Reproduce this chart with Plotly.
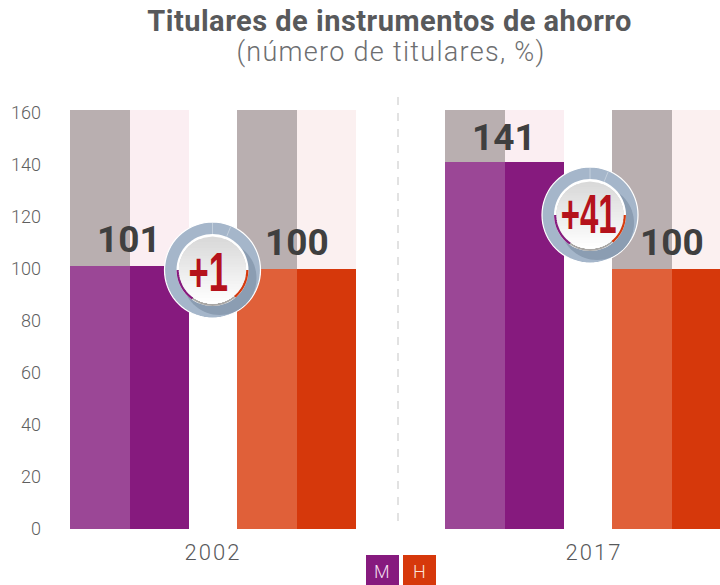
import math
import plotly.graph_objects as go

years = ["2002", "2017"]
women = [101, 141]
men = [100, 100]
deltas = ["+1", "+41"]
y_ticks = [0, 20, 40, 60, 80, 100, 120, 140, 160]
background_top = [161, 161]

W, H = 720, 585
L, T, B = 44, 110, 56
PW, PH = W - L, H - T - B
X0, STEP = 213.0, 375.0


def px(x):
    return (x - L) / PW


def py(y):
    return (H - B - y) / PH


def u(p):
    return p / STEP


def circle_path(cx, cy, r, n=72):
    pts = [(cx + r * math.cos(2 * math.pi * i / n), cy + r * math.sin(2 * math.pi * i / n)) for i in range(n)]
    return "M" + "L".join(f"{px(a):.5f},{py(b):.5f}" for a, b in pts) + "Z"


def arc_path(cx, cy, r, a0, a1, n=24):
    pts = []
    for i in range(n + 1):
        a = math.radians(a0 + (a1 - a0) * i / n)
        pts.append((cx + r * math.cos(a), cy + r * math.sin(a)))
    return "M" + "L".join(f"{px(a):.5f},{py(b):.5f}" for a, b in pts)


def cap_path(cx, cy, r, y0, n=24):
    """Part of a circle below the horizontal line y = y0."""
    t0 = math.asin(max(min((y0 - cy) / r, 1), -1))
    pts = []
    for i in range(n + 1):
        t = t0 + (math.pi - 2 * t0) * i / n
        pts.append((cx + r * math.cos(t), cy + r * math.sin(t)))
    return "M" + "L".join(f"{px(a):.5f},{py(b):.5f}" for a, b in pts) + "Z"


def pshape(path, fill, line=None, width=0):
    return dict(type="path", xref="paper", yref="paper", path=path, fillcolor=fill,
                line=dict(color=line or "rgba(0,0,0,0)", width=width))


def badge(cx, cy, left_color, right_color):
    s = []
    s.append(pshape(circle_path(cx, cy, 48), "#a5b6ca", "#ffffff", 1.2))
    s.append(pshape(circle_path(cx + 7, cy + 8, 37), "#8b9db2"))
    s.append(pshape(circle_path(cx, cy, 36), "#ffffff"))
    s.append(dict(type="line", xref="paper", yref="paper", x0=px(cx), x1=px(cx), y0=py(cy - 47), y1=py(cy - 36),
                  line=dict(color="#c3cfdc", width=1)))
    s.append(dict(type="line", xref="paper", yref="paper", x0=px(cx + 18), x1=px(cx + 14), y0=py(cy - 43), y1=py(cy - 33),
                  line=dict(color="#c3cfdc", width=1)))
    s.append(pshape(circle_path(cx, cy + 2.5, 33.5), "#a9a7a5"))
    r = 33.5
    n = 24
    for i in range(n):
        y0 = cy - r + 2 * r * i / n
        v = int(217 + (255 - 217) * i / (n - 1))
        s.append(pshape(cap_path(cx, cy, r, y0), f"rgb({v},{v},{v})"))
    s.append(pshape(arc_path(cx, cy, 34.8, 125, 180), "rgba(0,0,0,0)", left_color, 2.2))
    s.append(pshape(arc_path(cx, cy, 34.8, 0, 50), "rgba(0,0,0,0)", right_color, 2.2))
    return s


GREY, PALE = "#b9afb0", "#fbeef2"
slots = [
    (-143, 60, GREY, "#9b4796", women),
    (-83, 59, PALE, "#861a7e", women),
    (24, 60, GREY, "#e06039", men),
    (84, 59, "#fbf0f0", "#d6380b", men),
]

fig = go.Figure()
xs = [0, 1]
for off, wid, bg, fg, vals in slots:
    fig.add_bar(x=xs, y=background_top, offset=u(off), width=u(wid), marker=dict(color=bg, line_width=0),
                hoverinfo="skip", showlegend=False)
for off, wid, bg, fg, vals in slots:
    fig.add_bar(x=xs, y=vals, offset=u(off), width=u(wid), marker=dict(color=fg, line_width=0),
                showlegend=False)

shapes = [dict(type="line", xref="paper", yref="paper", x0=px(398), x1=px(398), y0=py(97), y1=0,
               line=dict(color="#d9d9d9", width=1.5, dash="8px,8px"))]
shapes += badge(212.5, 270, "#861a7e", "#d6380b")
shapes += badge(590, 215, "#861a7e", "#d6380b")
shapes.append(dict(type="rect", xref="paper", yref="paper", x0=px(366), x1=px(399), y0=py(585), y1=py(555),
                   fillcolor="#861a7e", line_width=0))
shapes.append(dict(type="rect", xref="paper", yref="paper", x0=px(403), x1=px(436), y0=py(585), y1=py(555),
                   fillcolor="#d6380b", line_width=0))

ann = []
FONT = "Roboto"


def text(x, y, s, size, color, weight=400):
    ann.append(dict(x=px(x), y=py(y), xref="paper", yref="paper", text=s, showarrow=False, xanchor="center",
                    yanchor="middle", font=dict(family=FONT, size=size, color=color, weight=weight)))


TITLE = "Titulares de instrumentos de ahorro"
SUB = "(número de titulares, %)"
text(390, 21, TITLE, 29, "#58595b", 700)
text(391, 52, SUB, 27, "#6d6e70", 300)

for i, (w_val, m_val) in enumerate(zip(women, men)):
    ann.append(dict(x=i + u(-84), y=w_val, xref="x", yref="y", text=str(w_val), showarrow=False,
                    yshift=27 if i == 0 else 25,
                    font=dict(family=FONT, size=37, color="#3f3f3f", weight=700)))
    ann.append(dict(x=i + u(84), y=m_val, xref="x", yref="y", text=str(m_val), showarrow=False, yshift=27,
                    font=dict(family=FONT, size=37, color="#3f3f3f", weight=700)))

BADGE_FONT = "Liberation Sans"
ann.append(dict(x=px(208.5), y=py(272), xref="paper", yref="paper", text=deltas[0], showarrow=False,
                xanchor="center", yanchor="middle",
                font=dict(family=BADGE_FONT, size=55, color="#b5121b", weight=700)))
ann.append(dict(x=px(588), y=py(214), xref="paper", yref="paper", text=deltas[1], showarrow=False,
                xanchor="center", yanchor="middle",
                font=dict(family=BADGE_FONT, size=55, color="#b5121b", weight=700)))

text(382, 571, "M", 18, "#f3dff0", 300)
text(419, 571, "H", 18, "#fbe3da", 300)

fig.update_layout(
    width=W, height=H, autosize=False, barmode="overlay", bargap=0,
    margin=dict(l=L, r=0, t=T, b=B), paper_bgcolor="#ffffff", plot_bgcolor="#ffffff",
    shapes=shapes, annotations=ann, showlegend=False,
    font=dict(family=FONT),
    xaxis=dict(range=[(L - X0) / STEP, (W - X0) / STEP], tickmode="array", tickvals=[0, 1.016], ticktext=years,
               showgrid=False, zeroline=False, showline=False, ticks="", ticklabelstandoff=8,
               tickfont=dict(family=FONT, size=22, color="#58595b", weight=300)),
    yaxis=dict(range=[0, PH / 2.6], tickmode="array", tickvals=y_ticks, showgrid=False, zeroline=False,
               showline=False, ticks="", ticklabelstandoff=2,
               tickfont=dict(family=FONT, size=18, color="#5f5f5f", weight=300)),
)

post = """
document.documentElement.style.overflow='hidden';
document.body.style.margin='0';
document.querySelectorAll('.annotation-text').forEach(function(t){
  var s=t.textContent;
  if(s.charAt(0)==='+'){
    t.style.transformBox='fill-box';t.style.transformOrigin='center';
    t.style.transform='scaleX('+(s.length>2?0.6:0.63)+')';
  }
  if(s.indexOf('Titulares')===0){t.style.letterSpacing='0.5px';}
  if(s.charAt(0)==='('){t.style.letterSpacing='1.3px';}
});
document.querySelectorAll('.xtick text').forEach(function(t){t.style.letterSpacing='2px';});
"""
fig.write_html("out.html", config={"displayModeBar": False}, post_script=post)
